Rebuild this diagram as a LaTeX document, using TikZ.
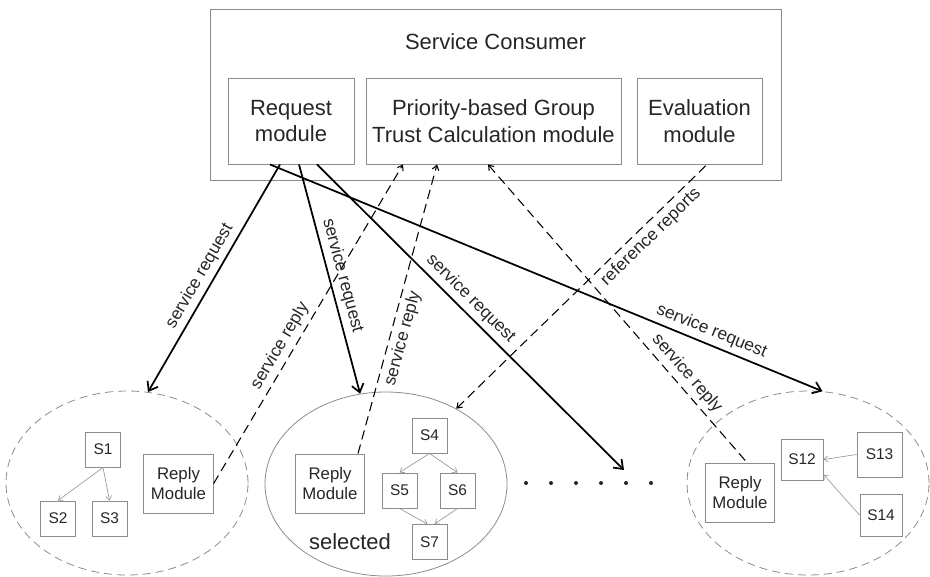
\documentclass[tikz,border=0pt]{standalone}
\usepackage{fontspec}
\setmainfont{Liberation Sans}
\usetikzlibrary{arrows.meta,calc,shapes.geometric}
\begin{document}
\begin{tikzpicture}[x=0.75pt,y=-0.75pt,
  bigtip/.tip={Straight Barb[length=6pt,width=9pt]},
  smalltip/.tip={Straight Barb[length=3.5pt,width=5pt]},
  thintip/.tip={Straight Barb[length=3pt,width=4.5pt]},
  box/.style={draw=gray!90,line width=0.7pt,text=black!85,align=center,inner sep=0pt},
  modbox/.style={box,minimum height=64.5pt,font=\fontsize{16.5}{20}\selectfont},
  sbox/.style={box,minimum width=26.25pt,minimum height=26.25pt,font=\fontsize{11.6}{14}\selectfont},
  replybox/.style={box,minimum width=52pt,minimum height=44.25pt,font=\fontsize{12.6}{14.5}\selectfont},
  group/.style={ellipse,draw=gray!90,line width=0.6pt,minimum width=181.5pt,minimum height=138pt,dash pattern=on 6pt off 3.75pt},
  req/.style={line width=1.3pt},
  rep/.style={line width=0.8pt,dash pattern=on 7pt off 4pt},
  lbl/.style={font=\fontsize{13}{15}\selectfont,text=black!85,sloped},
  sub/.style={draw=gray!80,line width=0.5pt,-thintip}]
\useasboundingbox (0,0) rectangle (930,576);
\node[box,minimum width=428.25pt,minimum height=128.25pt] (sc) at (495.5,94.5) {};
\node[font=\fontsize{16.5}{20}\selectfont,text=black!85] (sctitle) at (495.5,42) {Service Consumer};
\node[modbox,minimum width=94.5pt] (req) at (291,121) {Request\\module};
\node[modbox,minimum width=191.25pt] (pgtc) at (493.5,121) {Priority-based Group\\Trust Calculation module};
\node[modbox,minimum width=93.75pt] (eval) at (699.5,121) {Evaluation\\module};

\node[group] (g1) at (127,483) {};
\node[group,solid] (g2) at (386,484) {};
\node[group] (g3) at (808,483) {};

\node[sbox] (s1) at (103,449.5) {S1};
\node[sbox] (s2) at (58,518.5) {S2};
\node[sbox] (s3) at (109.5,518.5) {S3};
\node[replybox] (lrm) at (178.5,483.5) {Reply\\Module};

\node[replybox] (mrm) at (330,483.5) {Reply\\Module};
\node[sbox] (s4) at (429.5,435.5) {S4};
\node[sbox] (s5) at (399.5,490.5) {S5};
\node[sbox] (s6) at (457.5,490.5) {S6};
\node[sbox] (s7) at (429.5,542) {S7};
\node[font=\fontsize{16.5}{20}\selectfont,text=black!85] (sel) at (350,542) {selected};

\node[replybox] (rrm) at (740,492.5) {Reply\\Module};
\node[sbox,minimum width=31.5pt,minimum height=30.75pt] (s12) at (802,459.5) {S12};
\node[sbox,minimum width=33.75pt,minimum height=33.75pt] (s13) at (879.5,454.5) {S13};
\node[sbox,minimum width=31.5pt,minimum height=31.5pt] (s14) at (881,515) {S14};

\foreach \x in {526,551,...,651}
  \fill[black!85] (\x,483) circle (1.5pt);
\coordinate (dotsend) at (624,470);

\draw[sub] (s1.south) -- (s2.north);
\draw[sub] (s1.south) -- (s3.north);
\draw[sub] (s4.south) -- (s5.north);
\draw[sub] (s4.south) -- (s6.north);
\draw[sub] (s5.south) -- ($(s7.north)+(-2,0)$);
\draw[sub] (s6.south) -- ($(s7.north)+(5,0)$);
\draw[sub] (s13.west) -- (s12.east);
\draw[sub] (s14.west) -- (s12.-35);

\draw[req,bigtip-] (g1.77) -- node[lbl,above,pos=0.48]{service request} ($(req.south)+(-11,0)$);
\draw[req,-bigtip] ($(req.south)+(8,0)$) -- node[lbl,above,pos=0.5]{service request} (g2.106);
\draw[req,-bigtip] ($(req.south)+(26,0)$) -- node[lbl,above,pos=0.47]{service request} (dotsend);
\draw[req,-bigtip] ($(req.south)+(-21,0)$) -- node[lbl,above,pos=0.79]{service request} (g3.81);

\draw[rep,-smalltip] (lrm.east) -- node[lbl,above,pos=0.41]{service reply} ($(pgtc.south)+(-90.5,0)$);
\draw[rep,-smalltip] ($(mrm.north)+(28,0)$) -- node[lbl,below,pos=0.41]{service reply} ($(pgtc.south)+(-56.5,0)$);
\draw[rep,smalltip-] ($(pgtc.south)+(-5.5,0)$) -- node[lbl,above,pos=0.73]{service reply} ($(rrm.north)+(7,0)$);
\draw[rep,smalltip-] (g2.47) -- node[lbl,below,pos=0.74]{reference reports} ($(eval.south)+(7.5,0)$);
\end{tikzpicture}
\end{document}
